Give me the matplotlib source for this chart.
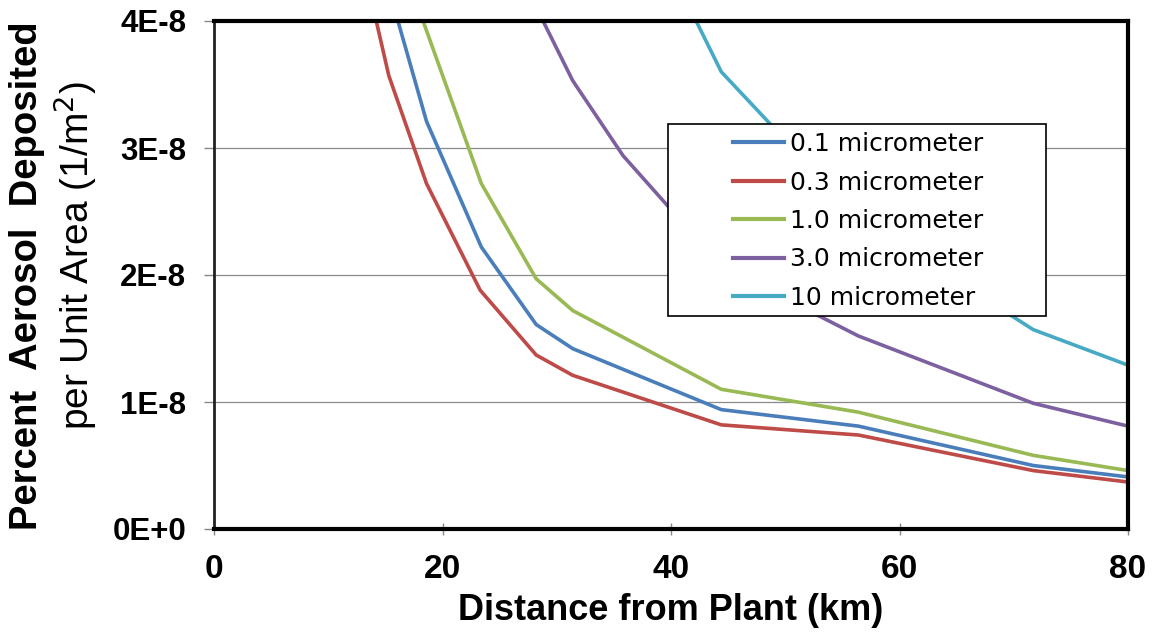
import matplotlib
matplotlib.use("Agg")
import matplotlib.pyplot as plt
from matplotlib.patches import Rectangle
import numpy as np

# ---- data (values in units of 1E-8 per m^2) ----
x_03 = [14.2, 15.3, 18.6, 23.3, 28.2, 31.4, 44.4, 56.4, 71.7, 80.0]
y_03 = [4.00, 3.57, 2.72, 1.88, 1.37, 1.21, 0.82, 0.74, 0.46, 0.37]

x_01 = [16.1, 18.6, 23.4, 28.2, 31.4, 44.4, 56.4, 71.7, 80.0]
y_01 = [4.00, 3.21, 2.22, 1.61, 1.42, 0.94, 0.81, 0.50, 0.41]

x_10 = [18.3, 23.4, 28.2, 31.4, 44.4, 56.4, 71.7, 80.0]
y_10 = [4.00, 2.72, 1.97, 1.72, 1.10, 0.92, 0.58, 0.46]

x_30 = [28.8, 31.4, 35.8, 44.4, 56.4, 71.7, 80.0]
y_30 = [4.00, 3.53, 2.94, 2.07, 1.52, 0.99, 0.81]

x_100 = [42.2, 44.4, 56.4, 71.7, 80.0]
y_100 = [4.00, 3.60, 2.45, 1.57, 1.29]

scale = 1e-8
labels = ["0.1 micrometer", "0.3 micrometer", "1.0 micrometer",
          "3.0 micrometer", "10 micrometer"]
colors = ["#4A7EBB", "#BE4B48", "#98B954", "#7D60A0", "#46AAC5"]

xticks = [0, 20, 40, 60, 80]
yticks = [0, 1e-8, 2e-8, 3e-8, 4e-8]
ytick_labels = ["0E+0", "1E-8", "2E-8", "3E-8", "4E-8"]

W, H = 1152, 639
fig = plt.figure(figsize=(W / 100, H / 100), dpi=100)
ax_l, ax_r, ax_t, ax_b = 214, 1128, 21, 529
ax = fig.add_axes([ax_l / W, 1 - ax_b / H, (ax_r - ax_l) / W, (ax_b - ax_t) / H])

def to_axes(px, py):
    return (px - ax_l) / (ax_r - ax_l), (ax_b - py) / (ax_b - ax_t)

series = [(x_01, y_01), (x_03, y_03), (x_10, y_10), (x_30, y_30), (x_100, y_100)]
for (xs, ys), lab, c in zip(series, labels, colors):
    ax.plot(xs, np.array(ys) * scale, color=c, lw=2.6, label=lab,
            solid_joinstyle="round", zorder=2)

ax.set_xlim(0, 80)
ax.set_ylim(0, 4e-8)
ax.set_xticks(xticks)
ax.set_xticklabels([str(t) for t in xticks], fontsize=24, fontweight="bold",
                   family="Liberation Sans")
ax.set_yticks(yticks)
ax.set_yticklabels(ytick_labels, fontsize=22.5, fontweight="bold",
                   family="Liberation Sans")
ax.tick_params(axis="y", direction="out", length=7, width=1, color="#888888", pad=13)
ax.tick_params(axis="x", direction="inout", length=8, width=1, color="#888888", pad=14)

ax.grid(axis="y", color="#8a8a8a", lw=0.9)
ax.set_axisbelow(True)
for s in ["top", "right", "bottom"]:
    ax.spines[s].set_linewidth(3)
    ax.spines[s].set_color("black")
ax.spines["left"].set_linewidth(2)
ax.spines["left"].set_color("#222222")

ax.set_xlabel("Distance from Plant (km)", fontsize=26, fontweight="bold",
              family="Liberation Sans", labelpad=6)

fig.text(27 / W, 1 - 276 / H, "Percent  Aerosol  Deposited", rotation=90,
         fontsize=27.5, fontweight="bold", family="Liberation Sans",
         ha="center", va="center")
fig.text(75 / W, 1 - 256 / H, "per Unit Area (1/m$^{2}$)", rotation=90,
         fontsize=28, family="Liberation Sans", ha="center", va="center")

# legend box
bx0, by1 = to_axes(668, 124)
bx1, by0 = to_axes(1046, 316)
ax.add_patch(Rectangle((bx0, by0), bx1 - bx0, by1 - by0, transform=ax.transAxes,
                       facecolor="white", edgecolor="black", lw=1.2, zorder=4))
lx, ly = to_axes(733, 132)
leg = ax.legend(loc="upper left", bbox_to_anchor=(lx, ly),
                prop={"family": "DejaVu Sans", "size": 18}, frameon=False,
                handlelength=2.05, handletextpad=0.25, labelspacing=0.58,
                borderpad=0, borderaxespad=0)
for line in leg.get_lines():
    line.set_linewidth(3.0)
leg.set_zorder(5)

fig.savefig("out.png", dpi=100, facecolor="white")
